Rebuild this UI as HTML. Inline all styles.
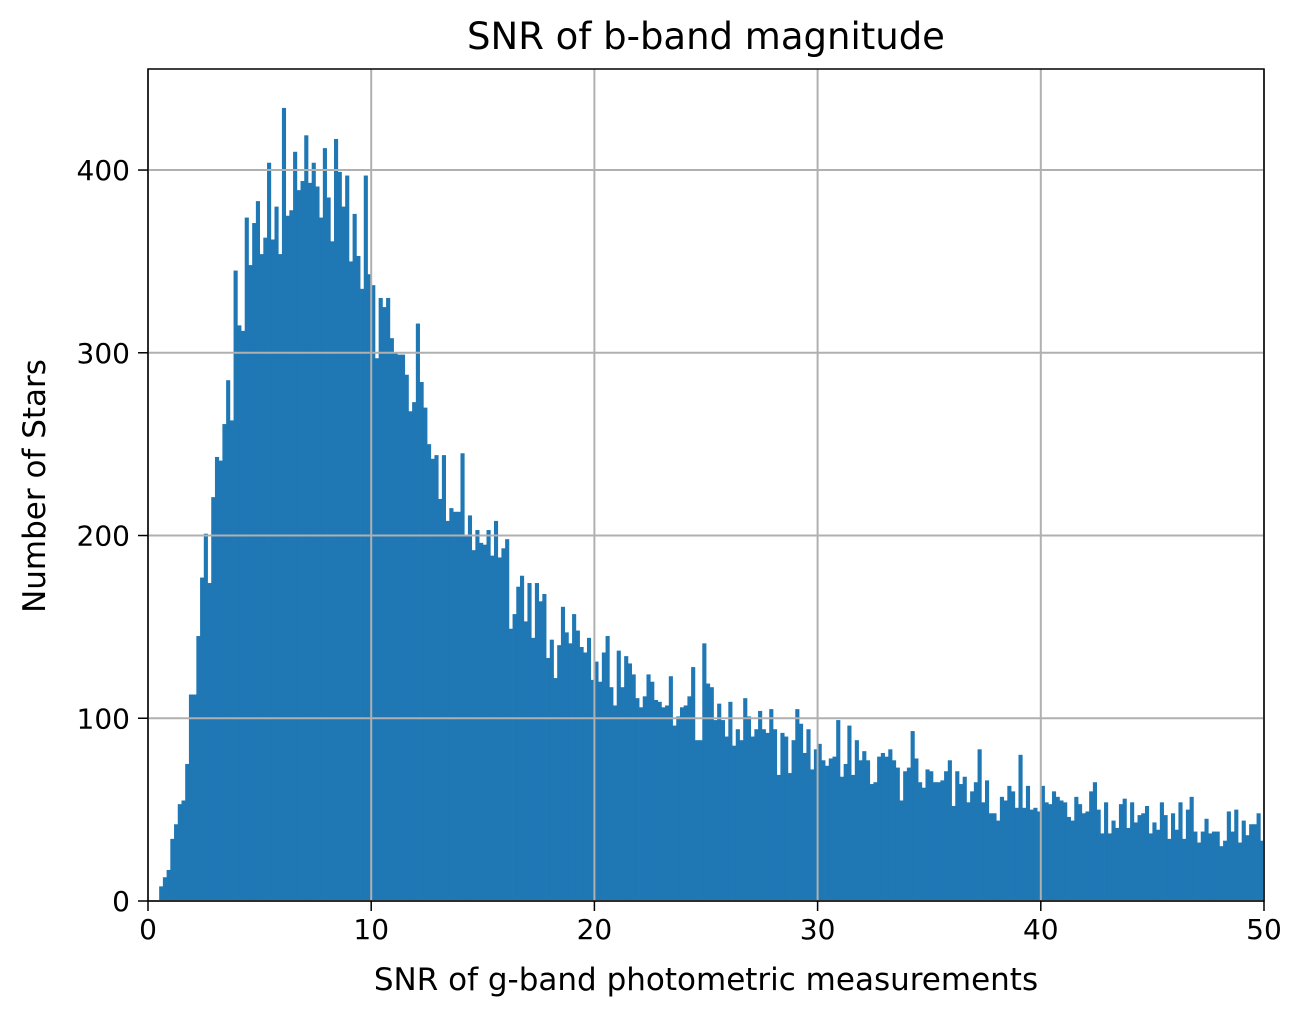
<!DOCTYPE html>
<html><head><meta charset="utf-8"><style>
body{margin:0;background:#fff;}
svg text{font-family:"DejaVu Sans","Liberation Sans",sans-serif;fill:#000;}
</style></head><body>
<svg id="chart" width="1305" height="1019" xmlns="http://www.w3.org/2000/svg">
<rect width="1305" height="1019" fill="#fff"/>
<g id="bars"></g>
<g id="grid"></g>
<rect x="148" y="69" width="1116" height="832" fill="none" stroke="#000" stroke-width="1.5"/>
<g id="xticks"></g>
<g id="yticks"></g>
<text x="706" y="49" font-size="37" text-anchor="middle">SNR of b-band magnitude</text>
<text x="706" y="990" font-size="31" text-anchor="middle">SNR of g-band photometric measurements</text>
<text x="0" y="0" font-size="31" text-anchor="middle" transform="translate(45,486) rotate(-90)">Number of Stars</text>
</svg>
<script>
const binStart = 0;
const binWidth = 50/300;
const counts = [0,0,0,8,13,17,34,42,53,55,75,113,113,145,177,201,174,221,243,241,261,285,263,345,315,312,374,348,371,383,354,363,404,362,380,354,434,375,
378,410,389,394,419,393,404,391,374,412,385,361,417,399,380,397,350,376,353,335,397,343,337,297,330,325,330,308,300,299,299,288,268,273,316,284,
270,250,242,244,220,244,208,215,213,213,245,200,211,192,203,196,195,203,189,208,188,193,198,149,157,172,178,153,174,144,174,164,168,133,143,122,
140,161,147,141,157,148,139,136,144,121,131,120,136,145,117,107,137,117,134,130,124,111,106,112,124,120,110,109,106,107,123,96,101,106,107,112,128,88,
88,141,119,117,99,108,99,90,109,85,94,88,111,101,90,94,104,94,92,105,94,69,92,90,70,88,105,97,81,94,72,83,86,77,74,78,79,99,
68,75,96,69,88,77,82,77,64,65,79,81,79,83,77,73,55,71,73,93,78,65,62,72,71,65,65,66,71,77,52,71,64,68,54,60,65,
83,54,66,48,48,44,57,55,63,60,51,80,51,63,50,51,49,63,54,53,60,57,55,54,46,44,57,53,48,49,60,65,50,37,54,37,44,40,53,
56,40,54,43,47,48,52,37,43,39,54,47,34,48,39,54,34,50,57,38,32,38,45,37,38,38,30,33,49,38,50,32,44,36,42,42,48,33];
const xTicks = [0,10,20,30,40,50];
const yTicks = [0,100,200,300,400];

const NS = "http://www.w3.org/2000/svg";
const X0=148, X1=1264, Y0=901, YT=69, XMAX=50, YMAX=455.3;
const xs = v => X0 + (v/XMAX)*(X1-X0);
const ys = v => Y0 - (v/YMAX)*(Y0-YT);
function mk(tag, attrs, parent){const e=document.createElementNS(NS,tag);for(const k in attrs)e.setAttribute(k,attrs[k]);parent.appendChild(e);return e;}

const bars=document.getElementById('bars');
counts.forEach((c,i)=>{
  if(!c) return;
  const a=xs(binStart+i*binWidth), b=xs(binStart+(i+1)*binWidth);
  const r=mk('rect',{x:a,y:ys(c),width:b-a+0.4,height:Y0-ys(c),fill:'#1f77b4'},bars);
  
  
});
const grid=document.getElementById('grid');
xTicks.forEach(t=>{
  const l=mk('line',{x1:xs(t),x2:xs(t),y1:YT,y2:Y0,stroke:'#b0b0b0','stroke-width':2},grid);
  
  
});
yTicks.forEach(t=>{
  const l=mk('line',{x1:X0,x2:X1,y1:ys(t),y2:ys(t),stroke:'#b0b0b0','stroke-width':2},grid);
  
  
});
const xg=document.getElementById('xticks');
xTicks.forEach(t=>{
  const m=mk('line',{x1:xs(t),x2:xs(t),y1:Y0,y2:Y0+10,stroke:'#000','stroke-width':1.5},xg);
  
  
  const tx=mk('text',{x:xs(t),y:Y0+38,'font-size':28,'text-anchor':'middle'},xg);
  tx.textContent=t;
  
  
});
const yg=document.getElementById('yticks');
yTicks.forEach(t=>{
  const m=mk('line',{x1:X0-10,x2:X0,y1:ys(t),y2:ys(t),stroke:'#000','stroke-width':1.5},yg);
  
  
  const tx=mk('text',{x:X0-18,y:ys(t)+10,'font-size':28,'text-anchor':'end'},yg);
  tx.textContent=t;
  
  
});
</script>
</body></html>
